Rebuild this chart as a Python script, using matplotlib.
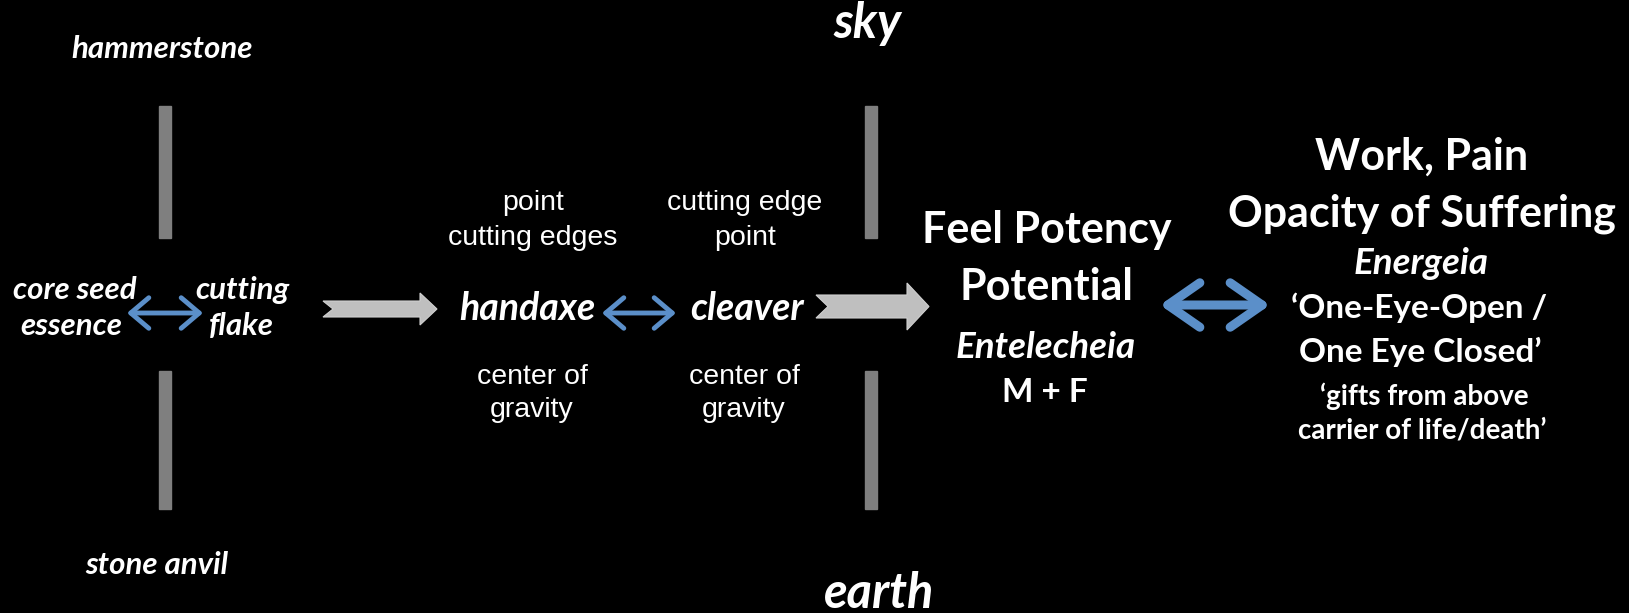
import matplotlib.pyplot as plt
from matplotlib.patches import Polygon, Rectangle

# text content of the diagram
stone_top = "hammerstone"
stone_bottom = "stone anvil"
core_label = ["core seed", "essence"]
flake_label = ["cutting", "flake"]
tools = ["handaxe", "cleaver"]
tool_tops = [["point", "cutting edges"], ["cutting edge", "point"]]
tool_bottoms = [["center of", "gravity"], ["center of", "gravity"]]
sky_earth = ["sky", "earth"]
potency = ["Feel Potency", "Potential"]
potency_sub = ["Entelecheia", "M + F"]
work = ["Work, Pain", "Opacity of Suffering"]
work_sub = ["Energeia", "\u2018One-Eye-Open /", "One Eye Closed\u2019",
            "\u2018gifts from above", "carrier of life/death\u2019"]

W, H = 1629, 613
fig = plt.figure(figsize=(W / 100, H / 100), dpi=100, facecolor="black")
ax = fig.add_axes([0, 0, 1, 1])
ax.set_xlim(0, W)
ax.set_ylim(H, 0)
ax.axis("off")
ax.set_facecolor("black")

cal = "Lato"
ari = "Liberation Sans"
blue = "#5B8FC9"
bar_grey = "#7F7F7F"
arrow_grey = "#BFBFBF"


def txt(x, y, s, size, weight="bold", style="italic", family=cal):
    ax.text(x, y, s, color="white", fontsize=size, fontweight=weight,
            fontstyle=style, family=family, ha="center", va="center")


def bar(x, y0, y1, w=12):
    ax.add_patch(Rectangle((x - w / 2, y0), w, y1 - y0, color=bar_grey))


def block_arrow(x0, x1, yc, shaft, head, hl, notch):
    pts = [(x0, yc - shaft), (x1 - hl, yc - shaft), (x1 - hl, yc - head),
           (x1, yc), (x1 - hl, yc + head), (x1 - hl, yc + shaft),
           (x0, yc + shaft), (x0 + notch, yc)]
    ax.add_patch(Polygon(pts, closed=True, facecolor=arrow_grey,
                         edgecolor="#d0d0d0", lw=0.8))


def dbl_arrow(x0, x1, y, lw, hw, hl):
    ax.annotate("", xy=(x1, y), xytext=(x0, y),
                arrowprops=dict(arrowstyle=f"<->,head_width={hw},head_length={hl}",
                                color=blue, lw=lw, capstyle="round",
                                joinstyle="round", shrinkA=0, shrinkB=0,
                                mutation_scale=10))


# vertical bars
for bx in (165, 871):
    bar(bx, 106, 238)
    bar(bx, 371, 509)

# left cluster
txt(162, 49, stone_top, 22.5)
txt(157, 565, stone_bottom, 22.5)
txt(75, 290, core_label[0], 22.5)
txt(71, 326, core_label[1], 22.5)
txt(242, 290, flake_label[0], 22.5)
txt(241, 326, flake_label[1], 22.5)
dbl_arrow(127, 203, 313, 3.5, 1.1, 1.3)

# grey arrows
block_arrow(323, 437, 309, 8, 16, 17, 10)
block_arrow(816, 929, 306.5, 11.5, 23.5, 22, 12)

# handaxe / cleaver
txt(527, 308, tools[0], 27)
txt(747, 308, tools[1], 27)
dbl_arrow(602, 676, 313, 3.5, 1.1, 1.3)
for cx, top in zip((533, 745), tool_tops):
    txt(cx, 203, top[0], 20.5, weight="normal", style="normal", family=ari)
    txt(cx, 238, top[1], 20.5, weight="normal", style="normal", family=ari)
for cx, bot in zip((532, 744), tool_bottoms):
    txt(cx, 377, bot[0], 20.5, weight="normal", style="normal", family=ari)
    txt(cx, 410, bot[1], 20.5, weight="normal", style="normal", family=ari)

# sky / earth
txt(867, 24, sky_earth[0], 35)
txt(879, 593, sky_earth[1], 35)

# potency block
txt(1047, 230, potency[0], 31, style="normal")
txt(1047, 287, potency[1], 31, style="normal")
txt(1046, 347, potency_sub[0], 26.5)
txt(1045, 392, potency_sub[1], 24, style="normal")

dbl_arrow(1160, 1270, 305, 6.5, 1.6, 2.3)

# work block
txt(1422, 157, work[0], 31, style="normal")
txt(1422, 214, work[1], 31, style="normal")
txt(1421, 263, work_sub[0], 26.5)
txt(1419, 308, work_sub[1], 24, style="normal")
txt(1420, 352, work_sub[2], 24, style="normal")
txt(1424, 396, work_sub[3], 20, style="normal")
txt(1422, 430, work_sub[4], 20, style="normal")

fig.savefig("out.png", dpi=100, facecolor="black")
